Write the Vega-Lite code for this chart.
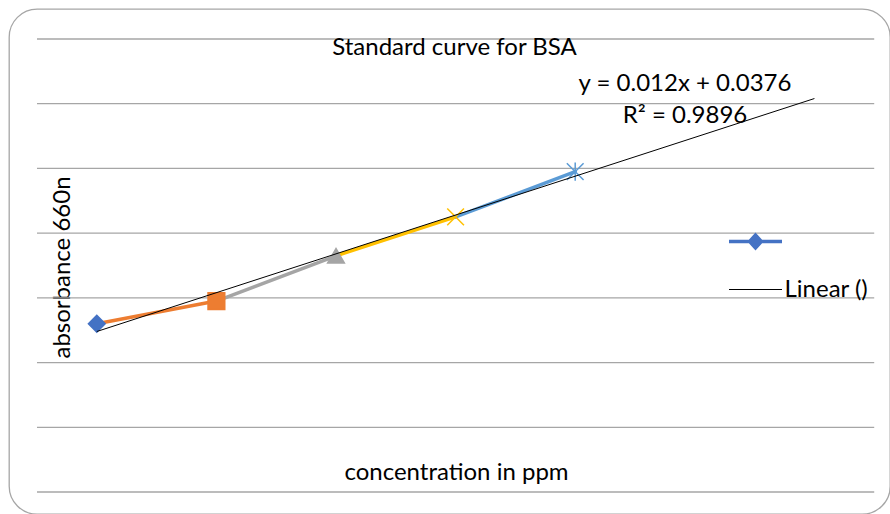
{
  "$schema": "https://vega.github.io/schema/vega-lite/v6.json",
  "width": 881,
  "height": 505,
  "autosize": {"type": "none"},
  "padding": {"left": 9, "top": 9, "right": 0, "bottom": 0},
  "background": "white",
  "config": {
    "font": "Lato",
    "view": {"stroke": "#a6a6a6", "strokeWidth": 1.3, "cornerRadius": 28}
  },
  "title": {
    "text": "Standard curve for BSA",
    "fontSize": 24,
    "fontWeight": "normal",
    "color": "black",
    "font": "Lato",
    "anchor": "middle",
    "frame": "group",
    "dx": 5,
    "offset": -75,
    "baseline": "bottom"
  },
  "datasets": {
    "points": [
      {"conc": 1, "absorbance": 0.052, "pt": "P1"},
      {"conc": 2, "absorbance": 0.059, "pt": "P2"},
      {"conc": 3, "absorbance": 0.073, "pt": "P3"},
      {"conc": 4, "absorbance": 0.085, "pt": "P4"},
      {"conc": 5, "absorbance": 0.099, "pt": "P5"}
    ],
    "segments": [
      {"seg": "P2", "c0": 1, "a0": 0.052, "c1": 2, "a1": 0.059},
      {"seg": "P3", "c0": 2, "a0": 0.059, "c1": 3, "a1": 0.073},
      {"seg": "P4", "c0": 3, "a0": 0.073, "c1": 4, "a1": 0.085},
      {"seg": "P5", "c0": 4, "a0": 0.085, "c1": 5, "a1": 0.099}
    ],
    "grid": [
      {"level": 0}, {"level": 0.02}, {"level": 0.04}, {"level": 0.06},
      {"level": 0.08}, {"level": 0.1}, {"level": 0.12}, {"level": 0.14}
    ],
    "eq": [{"label": "y = 0.012x + 0.0376\nR² = 0.9896"}]
  },
  "layer": [
    {
      "data": {"name": "grid"},
      "mark": {"type": "rule", "color": "#a6a6a6", "strokeWidth": 1.3},
      "encoding": {
        "y": {
          "field": "level",
          "type": "quantitative",
          "scale": {"domain": [-0.0068, 0.14927], "nice": false, "zero": false},
          "axis": {
            "title": "absorbance 660n",
            "labels": false, "ticks": false, "domain": false, "grid": false,
            "titleFontSize": 24, "titleFont": "Lato", "titleFontWeight": "normal", "titleColor": "black",
            "titleX": 53, "titleY": 258, "titleAngle": -90, "titleBaseline": "middle", "titleAlign": "center"
          }
        },
        "x": {
          "datum": 0.5,
          "type": "quantitative",
          "scale": {"domain": [0.266, 7.632], "nice": false, "zero": false},
          "axis": {
            "title": "concentration in ppm",
            "labels": false, "ticks": false, "domain": false, "grid": false,
            "titleFontSize": 24, "titleFont": "Lato", "titleFontWeight": "normal", "titleColor": "black",
            "titleX": 447, "titleY": -42, "titleBaseline": "middle", "titleAlign": "center"
          }
        },
        "x2": {"datum": 7.5}
      }
    },
    {
      "data": {"name": "segments"},
      "mark": {"type": "rule", "strokeWidth": 3.5, "strokeCap": "round"},
      "encoding": {
        "x": {"field": "c0", "type": "quantitative"},
        "y": {"field": "a0", "type": "quantitative"},
        "x2": {"field": "c1"},
        "y2": {"field": "a1"},
        "color": {
          "field": "seg", "type": "nominal",
          "scale": {"domain": ["P2", "P3", "P4", "P5"], "range": ["#ED7D31", "#A5A5A5", "#FFC000", "#5B9BD5"]},
          "legend": null
        }
      }
    },
    {
      "data": {"name": "points"},
      "mark": {"type": "point", "filled": true, "size": 280, "strokeWidth": 1.5, "opacity": 1},
      "encoding": {
        "x": {"field": "conc", "type": "quantitative"},
        "y": {"field": "absorbance", "type": "quantitative"},
        "color": {
          "field": "pt", "type": "nominal",
          "scale": {"domain": ["P1", "P2", "P3", "P4", "P5"], "range": ["#4472C4", "#ED7D31", "#A5A5A5", "#FFC000", "#5B9BD5"]},
          "legend": null
        },
        "stroke": {
          "field": "pt", "type": "nominal",
          "scale": {"domain": ["P1", "P2", "P3", "P4", "P5"], "range": ["#4472C4", "#ED7D31", "#A5A5A5", "#FFC000", "#5B9BD5"]},
          "legend": null
        },
        "shape": {
          "field": "pt", "type": "nominal",
          "scale": {"domain": ["P1", "P2", "P3", "P4", "P5"], "range": ["diamond", "square", "triangle-up", "M-1,-1L1,1M-1,1L1,-1", "M-1,-1L1,1M-1,1L1,-1M0,-1.1L0,1.1"]},
          "legend": null
        }
      }
    },
    {
      "data": {"name": "points"},
      "transform": [{"regression": "absorbance", "on": "conc", "extent": [1, 7]}],
      "mark": {"type": "line", "strokeWidth": 1},
      "encoding": {
        "x": {"field": "conc", "type": "quantitative"},
        "y": {"field": "absorbance", "type": "quantitative"},
        "color": {
          "datum": "Linear ()",
          "type": "nominal",
          "scale": {"domain": ["Series1", "Linear ()"], "range": ["#4472C4", "#000000"]},
          "legend": {
            "orient": "none",
            "legendX": 734.5,
            "legendY": 220.5,
            "title": null,
            "symbolSize": 2809,
            "symbolType": "stroke",
            "labelFontSize": 24,
            "labelFont": "Lato",
            "labelColor": "black",
            "labelOffset": 17,
            "rowPadding": 22,
            "padding": 0,
            "labelExpr": "datum.value === 'Linear ()' ? datum.value : ''",
            "encode": {
              "symbols": {
                "update": {
                  "shape": {"signal": "datum.value === 'Linear ()' ? 'M-1,0L1,0' : 'M-1,0L1,0M-0.22,0L0,-0.24L0.22,0L0,0.24Z'"},
                  "strokeWidth": {"signal": "datum.value === 'Linear ()' ? 1 : 3.5"},
                  "fill": {"signal": "datum.value === 'Linear ()' ? 'transparent' : '#4472C4'"},
                  "stroke": {"signal": "datum.value === 'Linear ()' ? '#000000' : '#4472C4'"}
                }
              }
            }
          }
        }
      }
    },
    {
      "data": {"name": "eq"},
      "mark": {"type": "text", "align": "center", "baseline": "top", "fontSize": 24, "lineHeight": 32, "lineBreak": "\n", "color": "black", "font": "Lato"},
      "encoding": {
        "text": {"field": "label", "type": "nominal"},
        "x": {"datum": 5.918, "type": "quantitative"},
        "y": {"datum": 0.1298, "type": "quantitative"}
      }
    }
  ],
  "resolve": {"scale": {"color": "independent", "stroke": "independent", "shape": "independent"}}
}
